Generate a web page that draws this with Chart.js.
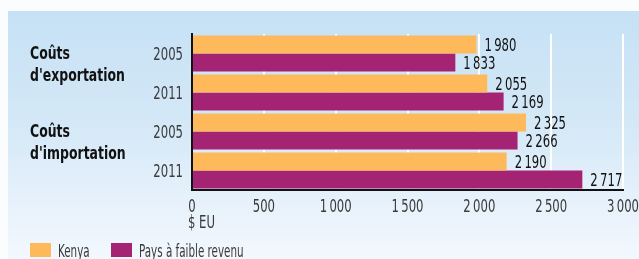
<!DOCTYPE html>
<html><head><meta charset="utf-8">
<script src="https://cdn.jsdelivr.net/npm/chart.js@4/dist/chart.umd.min.js"></script>
<style>
html,body{margin:0;padding:0;background:#fbfcfe;width:639px;height:259px;overflow:hidden;}
canvas{display:block;}
</style></head><body>
<canvas id="c" width="639" height="259"></canvas>
<script>
const categories = ['2005', '2011', '2005', '2011'];
const groupLabels = [['Coûts', "d'exportation"], ['Coûts', "d'importation"]];
const seriesNames = ['Kenya', 'Pays à faible revenu'];
const kenya = [1980, 2055, 2325, 2190];
const lowIncome = [1833, 2169, 2266, 2717];
const xTicks = [0, 500, 1000, 1500, 2000, 2500, 3000];
const unitLabel = '$ EU';
const colors = ['#fdb95a', '#a52373'];

const FAM = "'DejaVu Sans Condensed','DejaVu Sans',sans-serif";
const fmt = v => String(v).replace(/\B(?=(\d{3})+(?!\d))/g, '\u2009');

function txt(ctx, s, x, y, o) {
  ctx.save();
  ctx.font = (o.bold ? 'bold ' : '') + o.size + 'px ' + FAM;
  ctx.fillStyle = o.color || '#111';
  ctx.textAlign = o.align || 'left';
  ctx.textBaseline = 'alphabetic';
  ctx.translate(x, y);
  ctx.scale(o.sx || 1, 1);
  ctx.fillText(s, 0, 0);
  ctx.restore();
}

const bgPlugin = {
  id: 'bg',
  beforeDraw(chart) {
    const ctx = chart.ctx;
    ctx.save();
    ctx.fillStyle = '#fbfcfe';
    ctx.fillRect(0, 0, chart.width, chart.height);
    const g = ctx.createLinearGradient(0, 11, 0, 259);
    g.addColorStop(0, '#c6e1f5');
    g.addColorStop(0.45, '#d4e8f7');
    g.addColorStop(1, '#f3f8fe');
    ctx.fillStyle = g;
    ctx.fillRect(8, 11, chart.width - 8, chart.height - 11);
    ctx.restore();
  }
};

const textPlugin = {
  id: 'texts',
  afterDraw(chart) {
    const ctx = chart.ctx;
    const xs = chart.scales.x, ys = chart.scales.y;
    // value labels
    chart.data.datasets.forEach((ds, i) => {
      chart.getDatasetMeta(i).data.forEach((bar, j) => {
        txt(ctx, fmt(ds.data[j]), bar.x + 8, bar.y + 6.5, { size: 18, sx: 0.72, color: '#111' });
      });
    });
    // x tick labels
    xTicks.forEach(v => {
      txt(ctx, fmt(v), xs.getPixelForValue(v), 211.5, { size: 18, sx: 0.72, align: 'center', color: '#3a3a3a' });
    });
    // unit
    txt(ctx, unitLabel, 188, 228, { size: 18, sx: 0.72, color: '#3a3a3a' });
    // y tick labels
    categories.forEach((c, i) => {
      txt(ctx, c, 183, ys.getPixelForValue(i) + 6.5, { size: 18, sx: 0.72, align: 'right', color: '#3a3a3a' });
    });
    // group labels
    groupLabels.forEach((lines, g) => {
      const cy = (ys.getPixelForValue(2 * g) + ys.getPixelForValue(2 * g + 1)) / 2;
      lines.forEach((l, k) => {
        txt(ctx, l, 30, cy - 14 + k * 22, { size: 18, bold: true, sx: 0.77, color: '#111' });
      });
    });
    // legend
    const legX = [30, 111];
    seriesNames.forEach((n, i) => {
      ctx.save();
      ctx.fillStyle = colors[i];
      ctx.fillRect(legX[i], 243, 21, 14);
      ctx.restore();
      txt(ctx, n, legX[i] + 28, 257, { size: 18, sx: 0.64, color: '#3a3a3a' });
    });
  }
};

new Chart(document.getElementById('c'), {
  type: 'bar',
  data: {
    labels: categories,
    datasets: [
      { label: seriesNames[0], data: kenya, backgroundColor: colors[0] },
      { label: seriesNames[1], data: lowIncome, backgroundColor: colors[1] }
    ]
  },
  options: {
    indexAxis: 'y',
    responsive: false,
    animation: false,
    devicePixelRatio: 1,
    layout: { padding: { left: 0, right: 16, top: 34, bottom: 0 } },
    datasets: { bar: { barPercentage: 1, categoryPercentage: 0.92 } },
    plugins: { legend: { display: false }, tooltip: { enabled: false } },
    scales: {
      x: {
        min: 0, max: 3000,
        afterBuildTicks: s => { s.ticks = xTicks.map(v => ({ value: v })); },
        afterFit: s => { s.height = 69; },
        grid: { color: '#ffffff', lineWidth: 2, drawTicks: false },
        border: { color: '#111', width: 2 },
        ticks: { display: false }
      },
      y: {
        afterFit: s => { s.width = 192; },
        grid: { display: false, drawTicks: false },
        border: { color: '#111', width: 2 },
        ticks: { display: false }
      }
    }
  },
  plugins: [bgPlugin, textPlugin]
});
</script>
</body></html>
